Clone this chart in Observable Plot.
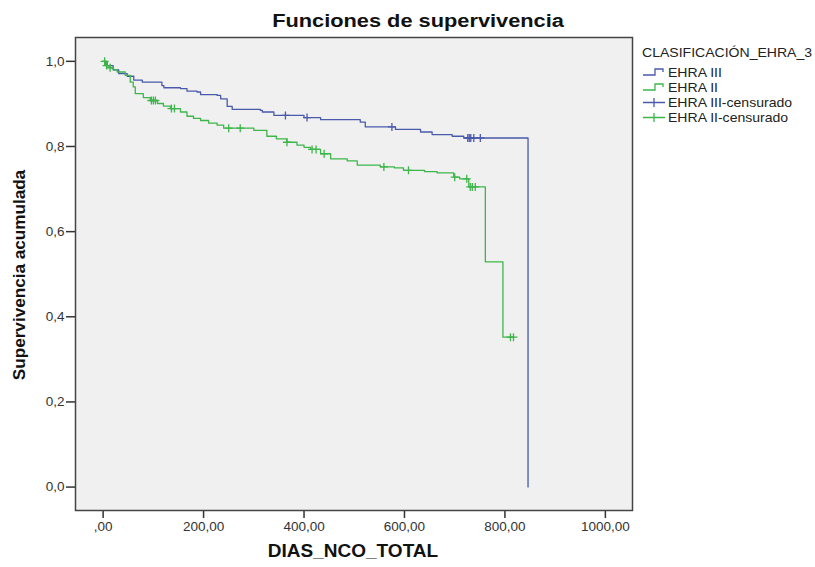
<!DOCTYPE html>
<html><head><meta charset="utf-8">
<script src="https://cdn.jsdelivr.net/npm/d3@7"></script>
<script src="https://cdn.jsdelivr.net/npm/@observablehq/plot@0.6"></script>
<style>
body{margin:0;background:#fff;font-family:"Liberation Sans",Arial,sans-serif;}
#wrap{position:relative;width:815px;height:567px;overflow:hidden;}
.t{position:absolute;white-space:nowrap;color:#111;line-height:1;}
.leg{position:absolute;left:642px;top:40px;font-size:13px;color:#222;}
.leg .row{display:flex;align-items:center;height:15px;}
.leg .row span{display:inline-block;transform:scaleX(1.08);transform-origin:left center;}
</style></head><body><div id="wrap"></div>
<script>
// ---- data ----
const xTicks = [0, 200, 400, 600, 800, 1000];
const yTicks = [0, 0.2, 0.4, 0.6, 0.8, 1.0];
const seriesNames = ["EHRA III", "EHRA II"];
const seriesColors = ["#4a5aab", "#3db54a"];

const blueTime = [0, 8, 20, 31, 48, 61, 78, 117, 121, 154, 167, 187, 194, 227, 234, 247, 257, 313, 317, 340, 400, 433, 512, 522, 582, 632, 655, 695, 718, 846];
const blueSurv = [1.0, 0.99, 0.98, 0.971, 0.965, 0.956, 0.951, 0.943, 0.938, 0.936, 0.930, 0.928, 0.922, 0.920, 0.912, 0.894, 0.887, 0.885, 0.881, 0.873, 0.868, 0.863, 0.857, 0.846, 0.840, 0.834, 0.828, 0.824, 0.820, 0.0];
const blueCensTime = [363, 406, 575, 726, 729, 732, 738, 751];
const blueCensSurv = [0.873, 0.868, 0.846, 0.820, 0.820, 0.820, 0.820, 0.820];

const greenTime = [0, 5, 12, 20, 28, 44, 54, 60, 64, 80, 94, 108, 120, 134, 154, 167, 180, 194, 210, 227, 240, 300, 326, 345, 366, 386, 400, 413, 433, 453, 486, 506, 552, 580, 598, 640, 665, 698, 710, 728, 761, 796, 817];
const greenSurv = [1.0, 0.99, 0.985, 0.98, 0.975, 0.967, 0.951, 0.94, 0.924, 0.915, 0.908, 0.901, 0.895, 0.889, 0.881, 0.871, 0.866, 0.861, 0.855, 0.850, 0.843, 0.838, 0.824, 0.818, 0.810, 0.803, 0.798, 0.793, 0.783, 0.771, 0.766, 0.756, 0.752, 0.750, 0.744, 0.741, 0.738, 0.728, 0.724, 0.705, 0.529, 0.352, 0.352];
const greenCensTime = [3, 7, 14, 96, 100, 104, 136, 142, 250, 273, 366, 416, 424, 440, 559, 608, 700, 724, 731, 735, 741, 811, 817];
const greenCensSurv = [1.0, 0.99, 0.985, 0.908, 0.908, 0.908, 0.889, 0.889, 0.843, 0.843, 0.810, 0.793, 0.793, 0.783, 0.752, 0.744, 0.728, 0.724, 0.705, 0.705, 0.705, 0.352, 0.352];

const blue = blueTime.map((t, i) => ({t, s: blueSurv[i]}));
const green = greenTime.map((t, i) => ({t, s: greenSurv[i]}));
const blueC = blueCensTime.map((t, i) => ({t, s: blueCensSurv[i]}));
const greenC = greenCensTime.map((t, i) => ({t, s: greenCensSurv[i]}));

const plus = {draw(ctx, size) { const r = Math.sqrt(size / Math.PI); ctx.moveTo(-r, 0); ctx.lineTo(r, 0); ctx.moveTo(0, -r); ctx.lineTo(0, r); }};

const chart = Plot.plot({
  width: 815, height: 567,
  marginLeft: 75, marginRight: 183, marginTop: 37, marginBottom: 57,
  style: {fontFamily: '"Liberation Sans", Arial, sans-serif', fontSize: "13.5px", color: "#333", background: "transparent"},
  x: {domain: [-55, 1054], label: null},
  y: {domain: [-0.055, 1.056], label: null},
  marks: [
    Plot.frame({fill: "#f0f0f0"}),
    Plot.axisX({ticks: xTicks, tickSize: 8, tickPadding: 3, label: null, stroke: "#333", strokeWidth: 1.5,
      tickFormat: d => (d === 0 ? "" : d) + ",00"}),
    Plot.axisY({ticks: yTicks, tickSize: 9, tickPadding: 2, label: null, stroke: "#333", strokeWidth: 1.5,
      tickFormat: d => d.toFixed(1).replace(".", ",")}),
    Plot.line(blue, {x: "t", y: "s", curve: "step-after", stroke: seriesColors[0], strokeWidth: 1.3}),
    Plot.line(green, {x: "t", y: "s", curve: "step-after", stroke: seriesColors[1], strokeWidth: 1.3}),
    Plot.dot(blueC, {x: "t", y: "s", symbol: plus, r: 4, stroke: seriesColors[0], fill: "none", strokeWidth: 1.3}),
    Plot.dot(greenC, {x: "t", y: "s", symbol: plus, r: 4, stroke: seriesColors[1], fill: "none", strokeWidth: 1.3}),
    Plot.frame({stroke: "#444", strokeWidth: 1.5})
  ]
});
const wrap = document.getElementById("wrap");
wrap.appendChild(chart);

function addText(txt, css) {
  const d = document.createElement("div");
  d.className = "t";
  d.textContent = txt;
  Object.assign(d.style, css);
  wrap.appendChild(d);
  return d;
}
// title
addText("Funciones de supervivencia", {left: "418px", top: "12px", fontSize: "18px", fontWeight: "bold", transform: "translateX(-50%) scaleX(1.21)"});
// x title
addText("DIAS_NCO_TOTAL", {left: "353px", top: "541px", fontSize: "19px", fontWeight: "bold", transform: "translateX(-50%)"});
// y title
addText("Supervivencia acumulada", {left: "20px", top: "275px", fontSize: "16px", fontWeight: "bold", transform: "translate(-50%,-50%) rotate(-90deg) scaleX(1.07)"});

// legend
const leg = document.createElement("div");
leg.className = "leg";
const header = document.createElement("div");
header.className = "row";
header.style.height = "25px";
header.innerHTML = "<span>CLASIFICACIÓN_EHRA_3</span>";
leg.appendChild(header);
const entries = [
  {name: seriesNames[0], color: seriesColors[0], kind: "step"},
  {name: seriesNames[1], color: seriesColors[1], kind: "step"},
  {name: seriesNames[0] + "-censurado", color: seriesColors[0], kind: "cens"},
  {name: seriesNames[1] + "-censurado", color: seriesColors[1], kind: "cens"}
];
for (const e of entries) {
  const row = document.createElement("div");
  row.className = "row";
  const path = e.kind === "step"
    ? `<path d="M1,10 H13 V4 H21 V7" fill="none" stroke="${e.color}" stroke-width="1.3"/>`
    : `<path d="M1,7.5 H23 M12,3 V12" fill="none" stroke="${e.color}" stroke-width="1.3"/>`;
  row.innerHTML = `<svg width="25" height="15" style="margin-right:1px">${path}</svg><span>${e.name}</span>`;
  leg.appendChild(row);
}
wrap.appendChild(leg);
</script></body></html>
